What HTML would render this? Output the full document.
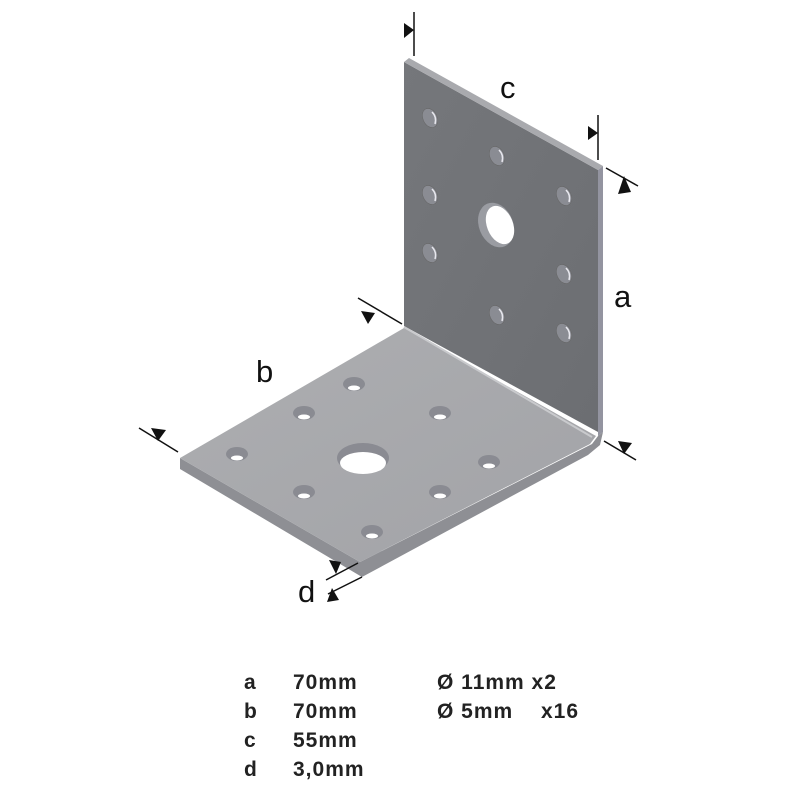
<!DOCTYPE html>
<html><head><meta charset="utf-8"><style>
html,body{margin:0;padding:0;background:#fff;width:800px;height:800px;overflow:hidden}
svg{position:absolute;left:0;top:0}
.t{font-family:"Liberation Sans",Arial,sans-serif;font-weight:bold;font-size:21px;letter-spacing:1px;fill:#222}
.l{font-family:"Liberation Sans",Arial,sans-serif;font-size:31px;fill:#111}
</style></head><body>
<svg width="800" height="800" viewBox="0 0 800 800">
<defs>
<linearGradient id="vf" x1="0" y1="0" x2="1" y2="1"><stop offset="0" stop-color="#75777b"/><stop offset="1" stop-color="#6c6e72"/></linearGradient>
<linearGradient id="hf" x1="0" y1="0" x2="1" y2="1"><stop offset="0" stop-color="#adaeb1"/><stop offset="1" stop-color="#a2a3a7"/></linearGradient>
</defs>
<polygon points="404,62 598,170 598,432 404,326" fill="url(#vf)"/>
<polygon points="404,62 409,58 603,166 598,170" fill="#a9aaae"/>
<polygon points="598,170 603,166 603,432 598,436" fill="#9394a0"/>
<polygon points="180,458 180,469 362,577 588,455 600,445 603,432 598,436 592,444 360,562" fill="#8e8f94"/>
<polygon points="180,458 404,328 596,436 590,444 360,562" fill="url(#hf)"/>
<line x1="404" y1="327" x2="592" y2="437" stroke="#c9cacd" stroke-width="2"/>
<g fill="#8a8c93" stroke="#666" stroke-width="0.5">
<ellipse cx="430" cy="118" rx="7" ry="10" transform="rotate(-25 430 118)"/>
<ellipse cx="497" cy="156" rx="7" ry="10" transform="rotate(-25 497 156)"/>
<ellipse cx="430" cy="195" rx="7" ry="10" transform="rotate(-25 430 195)"/>
<ellipse cx="564" cy="196" rx="7" ry="10" transform="rotate(-25 564 196)"/>
<ellipse cx="430" cy="253" rx="7" ry="10" transform="rotate(-25 430 253)"/>
<ellipse cx="564" cy="274" rx="7" ry="10" transform="rotate(-25 564 274)"/>
<ellipse cx="497" cy="315" rx="7" ry="10" transform="rotate(-25 497 315)"/>
<ellipse cx="564" cy="333" rx="7" ry="10" transform="rotate(-25 564 333)"/>
</g>
<g fill="none" stroke="#e8e8ee" stroke-width="1.5">
<path d="M432,112 q5,5 3,12"/><path d="M499,150 q5,5 3,12"/><path d="M432,189 q5,5 3,12"/><path d="M566,190 q5,5 3,12"/><path d="M432,247 q5,5 3,12"/><path d="M566,268 q5,5 3,12"/><path d="M499,309 q5,5 3,12"/><path d="M566,327 q5,5 3,12"/>
</g>
<ellipse cx="496" cy="225" rx="17" ry="23" transform="rotate(-22 496 225)" fill="#9a9ca2"/>
<ellipse cx="500" cy="225" rx="13" ry="20" transform="rotate(-22 500 225)" fill="#fff"/>
<g fill="#8a8b92">
<ellipse cx="237" cy="454" rx="11" ry="7"/><ellipse cx="304" cy="413" rx="11" ry="7"/><ellipse cx="354" cy="384" rx="11" ry="7"/>
<ellipse cx="440" cy="413" rx="11" ry="7"/><ellipse cx="489" cy="462" rx="11" ry="7"/><ellipse cx="304" cy="492" rx="11" ry="7"/>
<ellipse cx="440" cy="492" rx="11" ry="7"/><ellipse cx="372" cy="532" rx="11" ry="7"/>
<ellipse cx="363" cy="458" rx="26" ry="15"/>
</g>
<g fill="#fff">
<ellipse cx="237" cy="458" rx="6" ry="2.5"/><ellipse cx="304" cy="417" rx="6" ry="2.5"/><ellipse cx="354" cy="388" rx="6" ry="2.5"/>
<ellipse cx="440" cy="417" rx="6" ry="2.5"/><ellipse cx="489" cy="466" rx="6" ry="2.5"/><ellipse cx="304" cy="496" rx="6" ry="2.5"/>
<ellipse cx="440" cy="496" rx="6" ry="2.5"/><ellipse cx="372" cy="536" rx="6" ry="2.5"/>
<ellipse cx="363" cy="463" rx="23" ry="11"/>
</g>
<g stroke="#111" stroke-width="1.5" fill="none">
<line x1="414" y1="12" x2="414" y2="56"/>
<line x1="598" y1="115" x2="598" y2="160"/>
<line x1="606" y1="168" x2="638" y2="186"/>
<line x1="604" y1="441" x2="636" y2="460"/>
<line x1="358" y1="298" x2="402" y2="324"/>
<line x1="139" y1="428" x2="178" y2="452"/>
<line x1="326" y1="580" x2="358" y2="563"/>
<line x1="328" y1="594" x2="362" y2="577"/>
</g>
<g fill="#111">
<polygon points="414,30 404,23 404,38"/>
<polygon points="598,133 588,126 588,140"/>
<polygon points="624,176 618,194 631,192"/>
<polygon points="624,454 618,441 632,443"/>
<polygon points="375,313 361,311 368,324"/>
<polygon points="158,441 151,428 166,430"/>
<polygon points="336,574 329,560 341,562"/>
<polygon points="332,588 327,602 339,600"/>
</g>
<text class="l" x="500" y="98">c</text>
<text class="l" x="614" y="307">a</text>
<text class="l" x="256" y="382">b</text>
<text class="l" x="298" y="602">d</text>
<text class="t" x="244" y="689">a</text><text class="t" x="293" y="689">70mm</text>
<text class="t" x="244" y="718">b</text><text class="t" x="293" y="718">70mm</text>
<text class="t" x="244" y="747">c</text><text class="t" x="293" y="747">55mm</text>
<text class="t" x="244" y="776">d</text><text class="t" x="293" y="776">3,0mm</text>
<text class="t" x="437" y="689">Ø 11mm x2</text>
<text class="t" x="437" y="718">Ø 5mm</text><text class="t" x="541" y="718">x16</text>
</svg>
</body></html>
